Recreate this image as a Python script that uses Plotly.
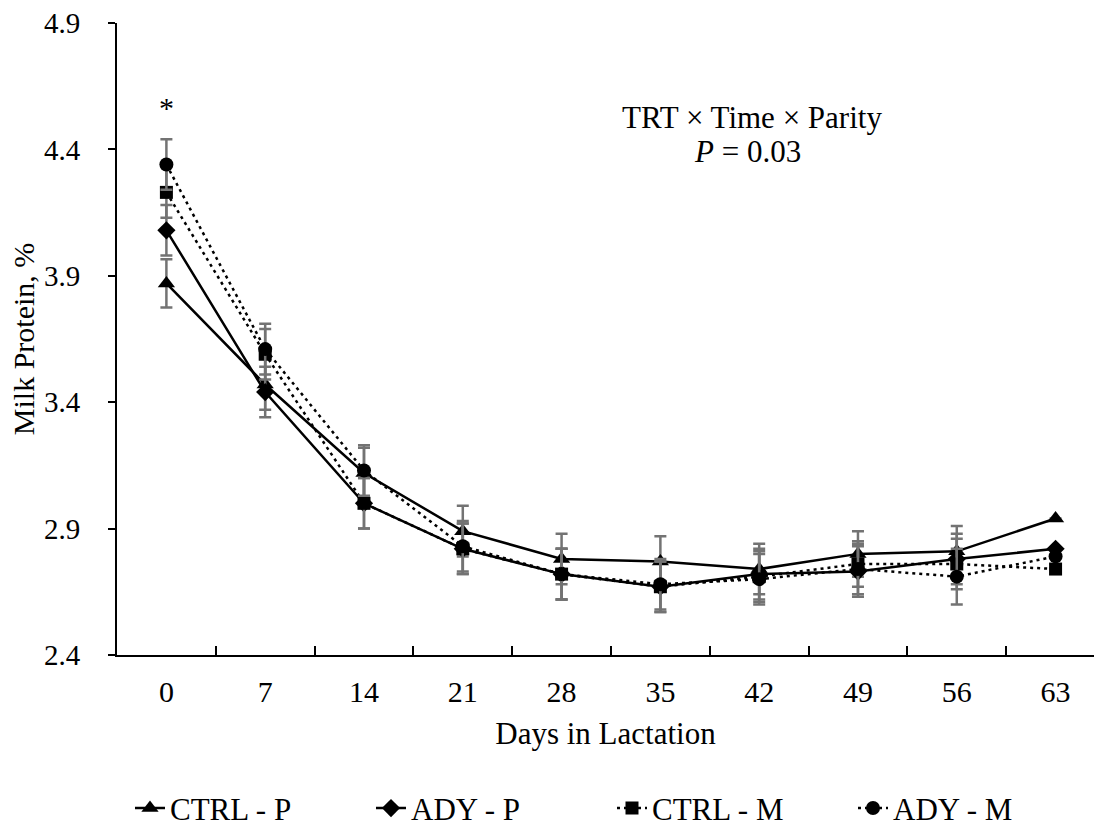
import plotly.graph_objects as go

days = ["0", "7", "14", "21", "28", "35", "42", "49", "56", "63"]

ctrl_p = [3.87, 3.47, 3.12, 2.89, 2.78, 2.77, 2.74, 2.80, 2.81, 2.94]
ady_p = [4.08, 3.44, 3.00, 2.82, 2.72, 2.67, 2.72, 2.73, 2.78, 2.82]
ctrl_m = [4.23, 3.59, 3.00, 2.82, 2.72, 2.67, 2.71, 2.76, 2.76, 2.74]
ady_m = [4.34, 3.61, 3.13, 2.83, 2.72, 2.68, 2.70, 2.74, 2.71, 2.79]

ctrl_p_se = [0.095, 0.10, 0.10, 0.10, 0.10, 0.10, 0.10, 0.09, 0.10, None]
ady_p_se = [0.10, 0.10, 0.10, 0.10, 0.10, 0.10, 0.10, 0.10, 0.10, None]
ctrl_m_se = [0.10, 0.10, 0.10, 0.10, 0.10, 0.10, 0.10, 0.09, 0.10, None]
ady_m_se = [0.10, 0.10, 0.10, 0.10, 0.10, 0.10, 0.10, 0.10, 0.11, None]

series = [
    ("CTRL - P", ctrl_p, ctrl_p_se, "solid", "triangle-up", 15),
    ("ADY - P", ady_p, ady_p_se, "solid", "diamond", 14),
    ("CTRL - M", ctrl_m, ctrl_m_se, "3px,4px", "square", 13),
    ("ADY - M", ady_m, ady_m_se, "3px,4px", "circle", 14),
]

FONT = "Liberation Serif, Times New Roman, serif"
ERR_COLOR = "#737373"

fig = go.Figure()
for name, vals, se, dash, sym, size in series:
    fig.add_trace(go.Scatter(
        x=days, y=vals, name=name, mode="lines+markers",
        line=dict(color="black", width=2.5, dash=dash),
        marker=dict(symbol=sym, size=size, color="black"),
        error_y=dict(type="data", array=se, visible=True,
                     color=ERR_COLOR, thickness=2.5, width=6),
        cliponaxis=False,
    ))

fig.add_annotation(x="0", y=4.565, xref="x", yref="y", text="*",
                   xanchor="center", yanchor="middle",
                   showarrow=False, font=dict(size=30, family=FONT, color="black"))
fig.add_annotation(x=0.65, y=0.851, xref="paper", yref="paper",
                   xanchor="center", yanchor="middle",
                   text="TRT × Time × Parity", showarrow=False,
                   font=dict(size=31, family=FONT, color="black"))
fig.add_annotation(x=0.645, y=0.796, xref="paper", yref="paper",
                   xanchor="center", yanchor="middle",
                   text="<i>P</i> = 0.03", showarrow=False,
                   font=dict(size=31, family=FONT, color="black"))
# y-axis title
fig.add_annotation(x=-0.096, y=0.5, xref="paper", yref="paper",
                   xanchor="center", yanchor="middle", textangle=-90,
                   text="Milk Protein, %", showarrow=False,
                   font=dict(size=30, family=FONT, color="black"))

fig.update_layout(
    width=1094, height=826,
    margin=dict(l=117, r=0, t=23, b=171, autoexpand=False),
    paper_bgcolor="white", plot_bgcolor="white",
    font=dict(family=FONT, size=31, color="black"),
    showlegend=True,
    legend=dict(orientation="h", x=0.0133, xanchor="left", y=-0.2, yanchor="top",
                entrywidth=196, font=dict(size=31, family=FONT, color="black"),
                bgcolor="rgba(0,0,0,0)"),
    xaxis=dict(
        type="category", categoryorder="array", categoryarray=days,
        range=[-0.5, 9.389],
        showline=True, linecolor="black", linewidth=2,
        ticks="inside", tickson="boundaries", ticklen=9, tickwidth=2, tickcolor="black",
        ticklabelstandoff=9, tickfont=dict(size=30, family=FONT),
        showgrid=False, zeroline=False,
        title=dict(text="Days in Lactation", font=dict(size=31, family=FONT)),
    ),
    yaxis=dict(
        range=[2.4, 4.9], tickvals=[2.4, 2.9, 3.4, 3.9, 4.4, 4.9], tickformat=".1f",
        showline=True, linecolor="black", linewidth=2,
        ticks="outside", ticklen=7, tickwidth=2, tickcolor="black",
        ticklabelstandoff=22, tickfont=dict(size=29, family=FONT),
        showgrid=False, zeroline=False,
    ),
)

fig.write_html("out.html")
